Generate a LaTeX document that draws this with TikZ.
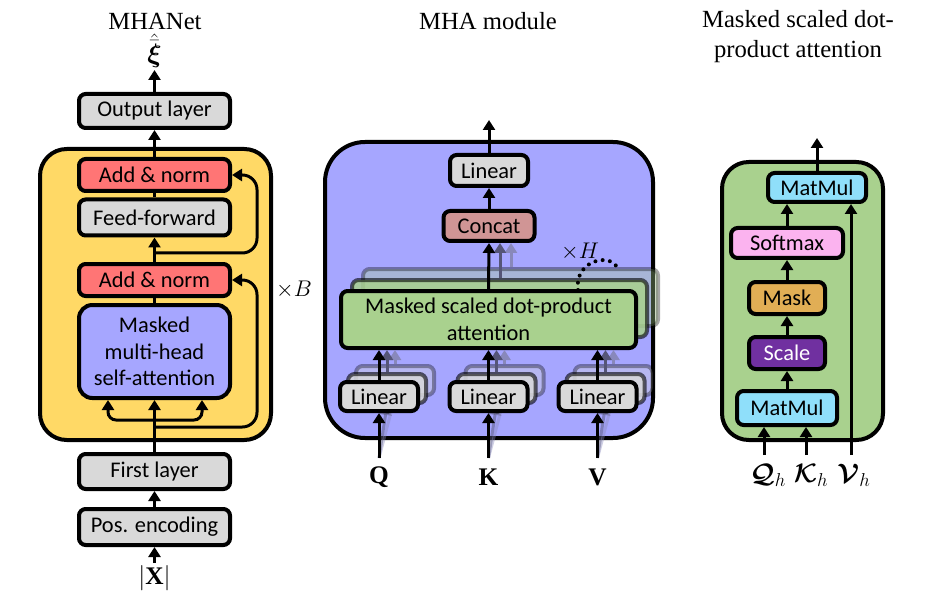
\RequirePackage{fix-cm}
\documentclass[tikz,border=0pt]{standalone}
\usepackage{amsmath,bm}
\usepackage{fontspec}
\setmainfont{Liberation Serif}
\newfontfamily\boxfont{Carlito}
\usetikzlibrary{arrows.meta}
\definecolor{cgray}{HTML}{D9D9D9}
\definecolor{cred}{HTML}{FF7575}
\definecolor{cyel}{HTML}{FFD966}
\definecolor{cblue}{HTML}{A6A6FF}
\definecolor{cgreen}{HTML}{A9D18E}
\definecolor{cconcat}{HTML}{D09595}
\definecolor{ccyan}{HTML}{8FDFFA}
\definecolor{cpink}{HTML}{FBB3EF}
\definecolor{corange}{HTML}{E1AE55}
\definecolor{cpurple}{HTML}{7030A0}
\definecolor{cgA}{HTML}{555577}
\definecolor{cgB}{HTML}{8888BB}
\begin{document}
\begin{tikzpicture}[x=0.75pt,y=-0.75pt,
  bx/.style={draw, line width=3pt, rounded corners=5pt, inner sep=0pt, align=center,
    font=\boxfont\fontsize{16.8}{20}\selectfont},
  wh/.style 2 args={minimum width=#1*0.75pt-3pt, minimum height=#2*0.75pt-3pt},
  cont/.style={draw, line width=3pt, inner sep=0pt},
  arr/.style={line width=2.25pt, -{Triangle[length=7.5pt,width=9pt]}},
  ln/.style={line width=2.25pt},
  ttl/.style={font=\fontsize{18.5}{22.5}\selectfont, align=center},
  lab/.style={font=\fontsize{19}{22}\selectfont, inner sep=1pt},
  sh3/.style={fill opacity=0.35, draw opacity=0.35},
  sh2/.style={fill opacity=0.85, draw opacity=0.6},
]
\useasboundingbox (0,0) rectangle (938,602);

% ================= MHANet =================
\node[ttl] (t1) at (155,21) {MHANet};
\node[cont, fill=cyel, rounded corners=20pt, wh={235}{295}] (blk) at (155.5,294.5) {};
\node[bx, fill=cgray, wh={155}{38}] (out) at (154.5,111) {Output layer};
\node[bx, fill=cred, wh={155}{36}] (an1) at (154.5,175) {Add \& norm};
\node[bx, fill=cgray, wh={155}{40}] (ff) at (154.5,217.5) {Feed-forward};
\node[bx, fill=cred, wh={155}{36}] (an2) at (154.5,280) {Add \& norm};
\node[bx, fill=cblue, rounded corners=10pt, wh={155}{97}] (mhsa) at (154.5,351.5) {Masked\\multi-head\\self-attention};
\node[bx, fill=cgray, wh={155}{39}] (first) at (154.5,471.5) {First layer};
\node[bx, fill=cgray, wh={155}{40}] (pos) at (154.5,527) {Pos. encoding};
\node[lab] (X) at (154.5,578) {$|\mathbf{X}|$};
\node[lab, font=\fontsize{20}{22}\selectfont] (xi) at (154.5,51) {$\hat{\bar{\boldsymbol{\xi}}}$};
\node[lab, font=\fontsize{17}{20}\selectfont] (B) at (294,290) {$\times B$};

\coordinate (xiend) at (154.5,70);
\draw[arr] (out.north) -- (xiend);
\draw[arr] (an1.north) -- (out.south);
\draw[ln] (ff.north) -- (an1.south);
\draw[arr] (an2.north) -- (ff.south);
\draw[ln] (mhsa.north) -- (an2.south);
\draw[arr] (first.north) -- (mhsa.south);
\draw[arr] (pos.north) -- (first.south);
\coordinate (xtail) at (154.5,563);
\draw[arr] (xtail) -- (pos.south);

\coordinate (b0) at (154.5,420);
\coordinate (bl) at (108,0);
\coordinate (br) at (202,0);
\draw[arr, rounded corners=6pt] (b0) -| (mhsa.south -| bl);
\draw[arr, rounded corners=6pt] (b0) -| (mhsa.south -| br);

\coordinate (rx) at (257,0);
\coordinate (r1) at (154.5,427);
\coordinate (r2) at (154.5,253);
\draw[arr, rounded corners=11pt] (r1) -- (r1 -| rx) |- (an2.east);
\draw[arr, rounded corners=11pt] (r2) -- (r2 -| rx) |- (an1.east);

% ================= MHA module =================
\node[ttl] (t2) at (488,21) {MHA module};
\node[cont, fill=cblue, rounded corners=30pt, wh={332}{300}] (mha) at (489,290) {};

% input ghost arrows and linear shadows
\foreach \n/\x/\lbl in {q/379/Q, k/488.5/K, v/597.5/V}{
  \coordinate (\n in) at (\x,458);
  \node[bx, fill=cgray, sh3, wh={82}{33}] (\n s3) at (\x+16,380.5) {};
  \node[bx, fill=cgray, sh2, wh={82}{33}] (\n s2) at (\x+8,388.5) {};
  \draw[arr, draw=cgA, draw opacity=0.5] (\n in) -- (\n s2.south);
  \draw[arr, draw=cgB, draw opacity=0.4] (\n in) -- (\n s3.south);
  \node[bx, fill=cgray, wh={82}{33}] (\n lin) at (\x,396.5) {Linear};
  \node[lab] (\n lab) at (\x,477) {$\mathbf{\lbl}$};
  \draw[arr] (\n in) -- (\n lin.south);
}

% attention shadows
\node[bx, fill=cgreen, sh3, wh={299}{61}] (m3) at (510.5,297.5) {};
\node[bx, fill=cgreen, sh2, wh={299}{61}] (m2) at (499.5,308.5) {};
\node[bx, fill=cgreen, wh={299}{61}] (msdpa) at (488.5,319.5) {Masked scaled dot-product\\attention};

\foreach \n/\x in {q/379, k/488.5, v/597.5}{
  \coordinate (\n a1) at (\x+8,0);
  \coordinate (\n a2) at (\x+16,0);
  \draw[arr, draw=cgB] (\n s3.north -| \n a2) -- (msdpa.south -| \n a2);
  \draw[arr, draw=cgA] (\n s2.north -| \n a1) -- (msdpa.south -| \n a1);
  \draw[arr] (\n lin.north) -- (msdpa.south -| \n lin.north);
}

\node[bx, fill=cconcat, wh={95}{34}] (concat) at (489,226) {Concat};
\node[bx, fill=cgray, wh={82}{35}] (lin) at (489,170.5) {Linear};
\coordinate (mhaout) at (489,120);
\draw[arr] (lin.north) -- (mhaout);
\draw[arr] (concat.north) -- (lin.south);
\coordinate (g1) at (500,0);
\coordinate (g2) at (511,0);
\draw[arr, draw=cgB] (m3.north -| g2) -- (concat.south -| g2);
\draw[arr, draw=cgA] (m2.north -| g1) -- (concat.south -| g1);
\draw[arr] (msdpa.north) -- (concat.south);

\node[lab, font=\fontsize{17}{20}\selectfont] (H) at (580,252) {$\times H$};
\draw[line width=3pt, dash pattern=on 0pt off 5.5pt, line cap=round]
  (578,290) .. controls (574,262) and (608,252) .. (617,267);

% ================= Masked scaled dot-product attention =================
\node[ttl] (t3) at (798,37) {Masked scaled dot-\\product attention};
\node[cont, fill=cgreen, rounded corners=20pt, wh={165}{282}] (sdpa) at (802.5,301) {};
\node[bx, fill=ccyan, wh={102}{33}] (mm2) at (817,187.5) {MatMul};
\node[bx, fill=cpink, wh={116}{34}] (soft) at (787,243) {Softmax};
\node[bx, fill=corange, wh={80}{36}] (mask) at (787,298) {Mask};
\node[bx, fill=cpurple, text=white, wh={80}{36}] (scale) at (787,353) {Scale};
\node[bx, fill=ccyan, wh={104}{38}] (mm1) at (787,408) {MatMul};

\coordinate (sdout) at (817,138);
\draw[arr] (mm2.north) -- (sdout);
\draw[arr] (soft.north) -- (soft.north |- mm2.south);
\draw[arr] (mask.north) -- (soft.south);
\draw[arr] (scale.north) -- (mask.south);
\draw[arr] (mm1.north) -- (scale.south);

\coordinate (qt) at (764,455);
\coordinate (kt) at (806,455);
\coordinate (vt) at (851,455);
\draw[arr] (qt) -- (mm1.south -| qt);
\draw[arr] (kt) -- (mm1.south -| kt);
\draw[arr] (vt) -- (mm2.south -| vt);
\node[lab, font=\fontsize{20}{22}\selectfont] (qh) at (768,475) {$\boldsymbol{\mathcal{Q}}_h$};
\node[lab, font=\fontsize{20}{22}\selectfont] (kh) at (811,475) {$\boldsymbol{\mathcal{K}}_h$};
\node[lab, font=\fontsize{20}{22}\selectfont] (vh) at (854,475) {$\boldsymbol{\mathcal{V}}_h$};
\end{tikzpicture}
\end{document}
